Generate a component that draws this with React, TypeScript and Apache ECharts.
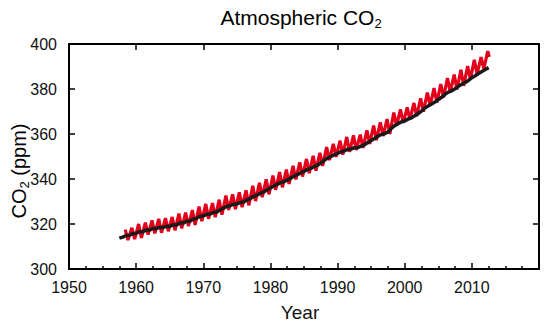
import React, { useEffect, useRef } from 'react';
import * as echarts from 'echarts';

// Mauna Loa-style record (red): yearly spring maxima and autumn minima, ppm
const redStartYear = 1958;
const redPeakOffset = 0.37;
const redTroughOffset = 0.78;
const redPeaks = [
  317.5, 318.3, 320.0, 320.6, 321.6, 322.3, 322.6, 323.1, 324.6, 325.1,
  326.2, 327.7, 328.9, 329.3, 330.8, 332.6, 333.2, 334.1, 335.0, 337.0,
  338.3, 339.9, 341.5, 343.1, 344.2, 345.9, 347.4, 348.9, 350.3, 351.6,
  354.2, 355.6, 357.0, 358.7, 359.4, 359.7, 361.6, 363.7, 365.2, 366.6,
  369.5, 370.9, 371.8, 373.8, 375.9, 378.4, 380.4, 382.2, 384.9, 386.4,
  388.5, 390.2, 393.0, 394.2, 396.8,
];
const redTroughs = [
  312.9, 313.3, 313.8, 315.3, 315.8, 316.1, 316.8, 317.2, 318.1, 319.1,
  319.6, 321.3, 322.3, 323.0, 324.1, 326.3, 326.6, 327.5, 328.3, 330.2,
  331.9, 333.2, 335.2, 336.3, 337.8, 339.8, 341.1, 342.6, 343.7, 345.8,
  348.4, 349.8, 350.8, 352.1, 352.9, 353.8, 355.6, 357.3, 359.1, 360.0,
  363.7, 364.9, 366.4, 367.9, 369.9, 372.6, 373.9, 376.3, 378.6, 379.8,
  381.4, 384.3, 386.6, 388.9,
];
const redTailYear = 2012.6;
const redTailValue = 394.3;

// Second record (black): half-yearly values starting 1957.5, ppm
const blackStartYear = 1957.5;
const blackStep = 0.5;
const blackValues = [
  313.7,
  314.2, 314.9, 315.0, 315.7, 315.9, 316.6, 316.6, 317.3, 317.3, 318.0,
  317.9, 318.5, 318.4, 319.0, 318.9, 319.6, 319.6, 320.4, 320.4, 321.2,
  321.2, 322.2, 322.5, 323.4, 323.6, 324.3, 324.4, 325.1, 325.3, 326.3,
  327.0, 327.9, 328.1, 328.8, 328.9, 329.6, 329.8, 330.7, 331.3, 332.3,
  332.8, 333.7, 334.2, 335.2, 336.0, 336.9, 337.6, 338.4, 338.8, 339.6,
  340.3, 341.3, 341.9, 342.7, 343.4, 344.2, 344.7, 345.5, 346.1, 347.1,
  348.3, 349.3, 350.0, 350.8, 351.3, 352.1, 352.5, 353.2, 353.3, 353.9,
  353.9, 354.6, 355.2, 356.2, 357.1, 358.0, 359.0, 359.8, 360.1, 360.9,
  362.5, 363.7, 364.6, 365.4, 365.8, 366.6, 367.2, 368.1, 369.1, 370.2,
  371.5, 372.4, 373.3, 374.2, 375.3, 376.3, 377.6, 378.6, 379.2, 380.1,
  381.2, 382.1, 382.9, 383.8, 385.0, 385.9, 386.9, 387.8, 388.7, 389.5,
];

const xMin = 1950;
const xMax = 2020;
const xInterval = 10;
const yMin = 300;
const yMax = 400;
const yInterval = 20;

const FONT = '"Liberation Sans", Arial, Helvetica, sans-serif';

function buildRed(): number[][] {
  const out: number[][] = [];
  redPeaks.forEach((p, i) => {
    out.push([redStartYear + i + redPeakOffset, p]);
    if (i < redTroughs.length) out.push([redStartYear + i + redTroughOffset, redTroughs[i]]);
  });
  out.push([redTailYear, redTailValue]);
  return out;
}

function buildBlack(): number[][] {
  return blackValues.map((v, i) => [blackStartYear + i * blackStep, v]);
}

export default function App() {
  const ref = useRef<HTMLDivElement>(null);
  useEffect(() => {
    document.body.style.margin = '0';
    if (!ref.current) return;
    const chart = echarts.init(ref.current, undefined, { renderer: 'svg' });
    const axisLine = { show: true, onZero: false, lineStyle: { color: '#000', width: 2 } };
    const tick = { show: true, inside: true, length: 6, lineStyle: { color: '#000', width: 1.5 } };
    const label = { fontSize: 16, color: '#111', fontFamily: FONT };
    const subRich = {
      s: { fontSize: 13, fontFamily: FONT, color: '#111', verticalAlign: 'bottom', lineHeight: 13, padding: [10, 0, 0, 0] },
      n: { fontSize: 20, fontFamily: FONT, color: '#111', lineHeight: 24 },
    };
    chart.setOption({
      animation: false,
      backgroundColor: '#fff',
      grid: { left: 69, right: 11, top: 44, bottom: 55, containLabel: false },
      xAxis: [
        {
          type: 'value', min: xMin, max: xMax, interval: xInterval, position: 'bottom',
          axisLine, axisTick: tick,
          minorTick: { show: true, splitNumber: 4, length: 3, lineStyle: { color: '#000', width: 1.5 } },
          axisLabel: { ...label, margin: 10, formatter: (v: number) => (v === xMax ? '' : String(v)) },
          splitLine: { show: false }, minorSplitLine: { show: false },
        },
        {
          type: 'value', min: xMin, max: xMax, interval: xInterval, position: 'top',
          axisLine, axisTick: tick, axisLabel: { show: false }, splitLine: { show: false },
        },
      ],
      yAxis: [
        {
          type: 'value', min: yMin, max: yMax, interval: yInterval, position: 'left',
          axisLine, axisTick: tick,
          axisLabel: { ...label, margin: 12 },
          splitLine: { show: false },
        },
        {
          type: 'value', min: yMin, max: yMax, interval: yInterval, position: 'right',
          axisLine, axisTick: tick, axisLabel: { show: false }, splitLine: { show: false },
        },
      ],
      graphic: [
        {
          type: 'text', x: 301, y: 17,
          style: {
            text: '{t|Atmospheric CO}{s|2}', align: 'center', verticalAlign: 'middle',
            rich: {
              t: { fontSize: 21, fontFamily: FONT, color: '#111', lineHeight: 25 },
              s: { fontSize: 13, fontFamily: FONT, color: '#111', verticalAlign: 'bottom', lineHeight: 13, padding: [10, 0, 0, 0] },
            },
          },
        },
        {
          type: 'text', x: 19, y: 171, rotation: Math.PI / 2,
          style: {
            text: '{n|CO}{s|2}{n| (ppm)}', align: 'center', verticalAlign: 'middle',
            rich: subRich,
          },
        },
        {
          type: 'text', x: 300, y: 312,
          style: { text: 'Year', align: 'center', verticalAlign: 'middle', fontSize: 19, fontFamily: FONT, fill: '#111' },
        },
      ],
      series: [
        {
          type: 'line', data: buildRed(), showSymbol: false, symbol: 'none',
          lineStyle: { color: '#e3001b', width: 3.2 }, z: 2,
        },
        {
          type: 'line', data: buildBlack(), showSymbol: false, symbol: 'none',
          lineStyle: { color: '#1a1a1a', width: 3.5 }, z: 3,
        },
      ],
    });
    return () => chart.dispose();
  }, []);
  return <div ref={ref} style={{ width: 550, height: 324 }} />;
}
